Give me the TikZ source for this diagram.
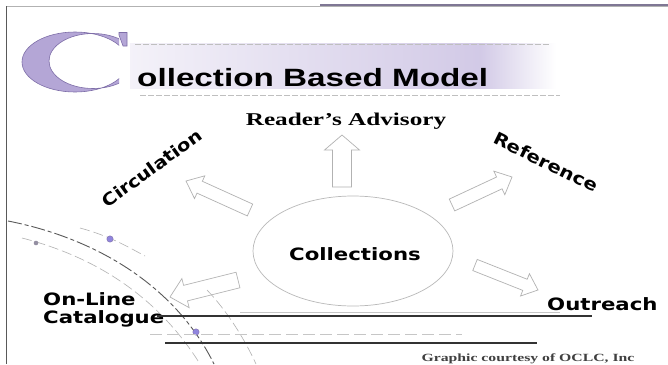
\documentclass[tikz,border=0pt]{standalone}
\usepackage{graphicx}
\usepackage{fontspec}
\setmainfont{Liberation Serif}
\newfontfamily\arialf{Liberation Sans}
\newfontfamily\dejaf{DejaVu Sans}
\usetikzlibrary{calc,shapes.geometric}
\definecolor{lav}{HTML}{B4A6D6}
\definecolor{lavdark}{HTML}{7E6EA8}
\tikzset{
  barrow/.style={draw=gray!60, line width=0.7pt, line join=miter},
  lbl/.style={inner sep=0pt, font=\dejaf\bfseries\fontsize{17}{17}\selectfont},
  arc/.style={line width=0.9pt, gray!70!black, dash pattern=on 14pt off 3pt on 4pt off 3pt},
  arclight/.style={line width=0.6pt, gray!60, dash pattern=on 10pt off 4pt},
  rule/.style={line width=1.3pt, black!80},
}
% block arrow from tail #1 to tip #2; #3 shaft half width, #4 head half width, #5 head length
\newcommand\blockarr[5]{%
  \coordinate (hb) at ($(#2)!#5!(#1)$);
  \draw[barrow] ($(#1)!#3!90:(#2)$) -- ($(hb)!#3!90:(#2)$) -- ($(hb)!#4!90:(#2)$) -- (#2)
    -- ($(hb)!#4!-90:(#2)$) -- ($(hb)!#3!-90:(#2)$) -- ($(#1)!#3!-90:(#2)$) -- cycle;}
\begin{document}
\begin{tikzpicture}[x=1pt,y=-1pt]
\useasboundingbox (0,0) rectangle (668,364);
\fill[white] (0,0) rectangle (668,364);
% frame
\draw[gray!60, line width=1pt] (6,6) -- (668,6);
\draw[gray!50!lavdark, line width=1.2pt] (320,5) -- (668,5);
\draw[gray!70!black, line width=0.9pt] (6,6) -- (6,364);
% title band
\shade[left color=lav!15, right color=lav!60] (130,43) rectangle (480,88);
\shade[left color=lav!60, right color=white] (480,43) rectangle (556,88);
\draw[gray!50, dash pattern=on 6pt off 2pt] (135,44) -- (550,44);
\draw[gray!50, dash pattern=on 6pt off 2pt] (140,95) -- (560,95);
% big C
\begin{scope}
  \clip (0,0) rectangle (119,120);
  \fill[lav, draw=lavdark, line width=0.6pt, even odd rule] (75,62) ellipse [x radius=53, y radius=30] (93,61) ellipse [x radius=44, y radius=27.5];
\end{scope}
\fill[lav, draw=lavdark, line width=0.6pt] (119,32.5) -- (127,32.5) -- (127,46) -- (123,46) -- (119,35) -- cycle;
\node[anchor=base west, inner sep=0pt] (title) at (137,86) {\scalebox{1.33}[1]{\arialf\bfseries\fontsize{25}{25}\selectfont ollection Based Model}};
% left arcs
\draw[arc] (8,221) .. controls (95,238) and (175,285) .. (214,364);
\draw[arclight] (22,238) .. controls (100,258) and (160,300) .. (200,364);
\draw[arclight] (80,228) .. controls (110,236) and (130,248) .. (145,256);
\draw[arclight] (207,290) .. controls (228,312) and (245,340) .. (256,364);
\fill[lav!80!blue, draw=lavdark] (110,239) circle (3.2);
\fill[gray!60!lav] (36,243) circle (2.3);
\fill[lav!80!blue, draw=lavdark] (196,332) circle (3.2);
% central ellipse
\node[ellipse, draw=gray!55, line width=0.7pt, minimum width=200pt, minimum height=110pt, inner sep=0pt] (coll) at (353,251) {};
\node[lbl] (colltext) at (355,254) {\scalebox{1.25}[1]{Collections}};
% labels
\node[anchor=base, inner sep=0pt] (ra) at (346,125) {\scalebox{1.4}[1]{\bfseries\fontsize{18}{18}\selectfont Reader’s Advisory}};
\node[lbl, rotate=36] (circ) at (152,168) {\scalebox{1.15}[1]{Circulation}};
\node[lbl, rotate=-26] (ref) at (546,162) {\scalebox{1.17}[1]{Reference}};
\node[lbl, anchor=base west] (out) at (547,310) {\scalebox{1.25}[1]{Outreach}};
\node[lbl, anchor=base west] (onl) at (43,305) {\scalebox{1.25}[1]{On-Line}};
\node[lbl, anchor=base west] (cat) at (43,323) {\scalebox{1.25}[1]{Catalogue}};
% rules
\draw[rule] (157,316) -- (592,316);
\draw[gray!45, line width=0.5pt] (240,312) -- (560,312);
\draw[gray!45, line width=0.6pt, dash pattern=on 12pt off 5pt] (150,334) -- (462,334);
\draw[rule] (165,343) -- (537,343);
\node[anchor=base, inner sep=0pt, text=black!75] (credit) at (528,361) {\scalebox{1.43}[1]{\bfseries\fontsize{11}{11}\selectfont Graphic courtesy of OCLC, Inc}};
% block arrows
\coordinate (upT) at (342,187);  \coordinate (upH) at (342,135);
\coordinate (refT) at (452,205); \coordinate (refH) at (512,177);
\coordinate (outT) at (475,265); \coordinate (outH) at (538,290);
\coordinate (cirT) at (250,210); \coordinate (cirH) at (186,181);
\coordinate (onlT) at (238,280); \coordinate (onlH) at (170,297);
\blockarr{upT}{upH}{9.5pt}{17.5pt}{15pt}
\blockarr{refT}{refH}{6.5pt}{13pt}{14pt}
\blockarr{outT}{outH}{6pt}{12pt}{14pt}
\blockarr{cirT}{cirH}{6.5pt}{12.5pt}{15pt}
\blockarr{onlT}{onlH}{8pt}{15pt}{16pt}
\end{tikzpicture}
\end{document}
